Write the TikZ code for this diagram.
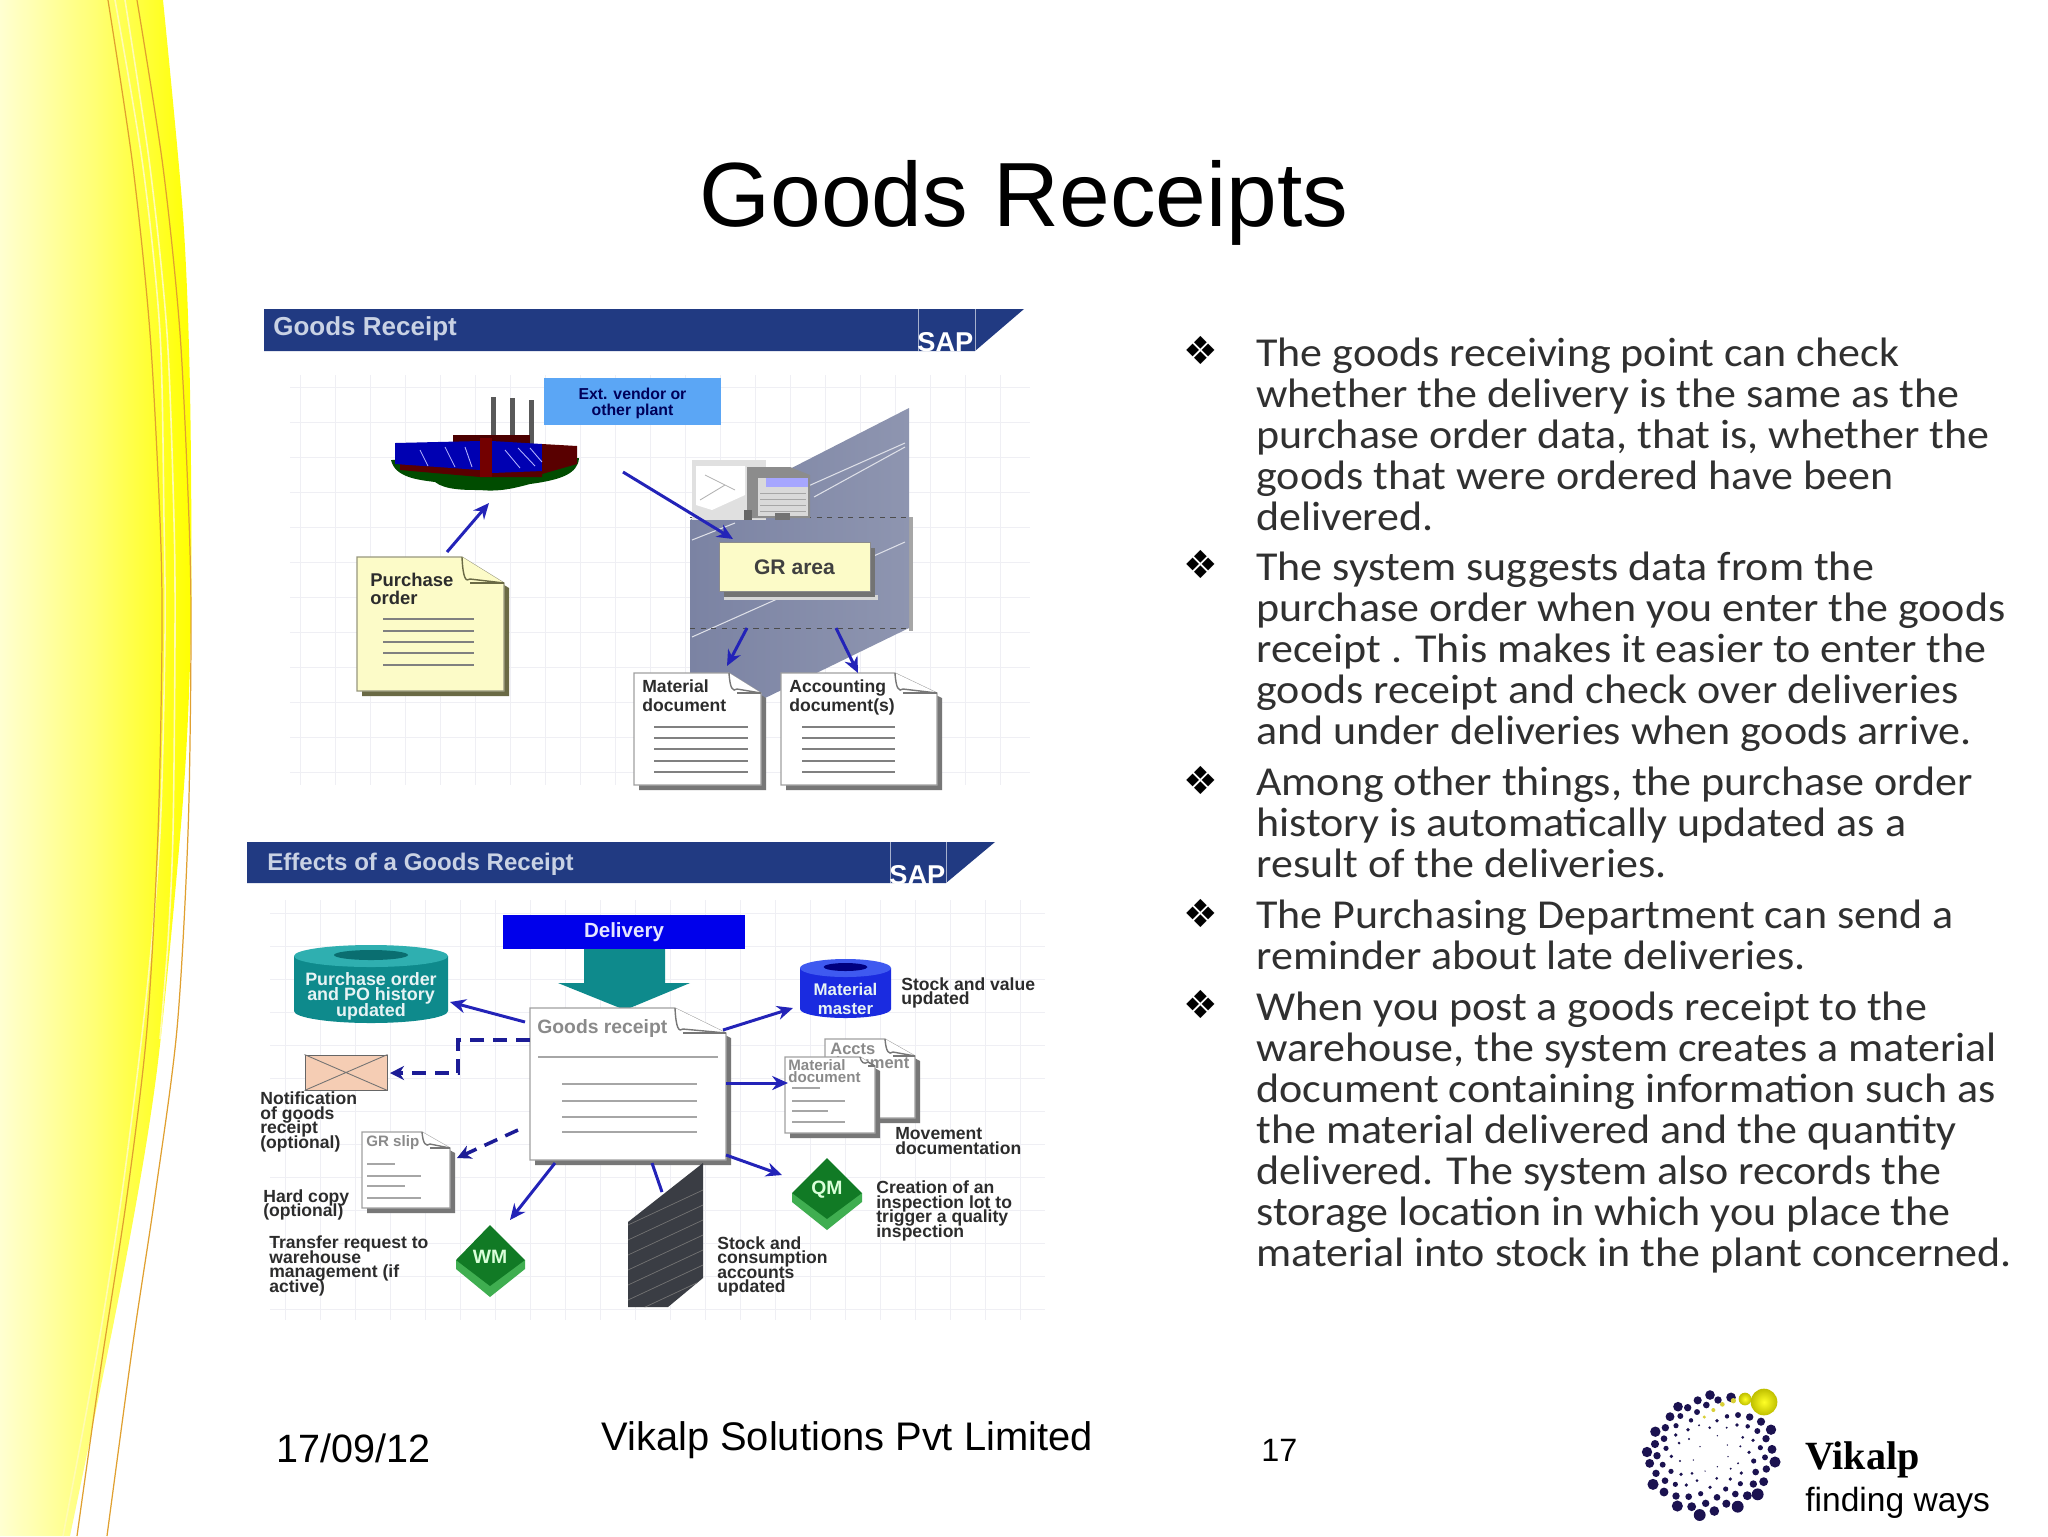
\documentclass[tikz,border=0pt]{standalone}
\usepackage{fontspec}
\setmainfont{Liberation Sans}
\newfontfamily\carl[FakeStretch=1.07]{Carlito}
\newfontfamily\djv{DejaVu Sans}
\newfontfamily\libser{Liberation Serif}
\usetikzlibrary{arrows.meta}
\definecolor{bannerblue}{HTML}{213A82}
\definecolor{bannertext}{HTML}{C9D2E4}
\definecolor{navydot}{HTML}{1B1250}
\definecolor{arrowblue}{HTML}{2323B8}
\definecolor{dashblue}{HTML}{1C1C96}
\definecolor{teal1}{HTML}{0E8A8C}
\definecolor{teal2}{HTML}{2FAFB0}
\definecolor{teal3}{HTML}{0A6E70}
\definecolor{matblue}{HTML}{1A2BE0}
\definecolor{matblue2}{HTML}{3F5AF0}
\definecolor{paleyellow}{HTML}{FCFBC8}
\definecolor{olive}{HTML}{6A6A45}
\definecolor{docshadow}{HTML}{777777}
\definecolor{labeltext}{HTML}{2C2C2C}
\definecolor{grayttxt}{HTML}{8A8A8A}
\definecolor{gridc}{HTML}{EFEFF4}
\definecolor{orangeline}{HTML}{E0A030}
\definecolor{bodytext}{HTML}{303030}
\definecolor{greenface}{HTML}{117A25}
\definecolor{greenside}{HTML}{3FAE50}
\definecolor{wallL}{HTML}{7B83A3}
\definecolor{wallR}{HTML}{8E95B0}
\definecolor{peach}{HTML}{F5CDB4}
\definecolor{ventblue}{HTML}{5BA6F5}
\definecolor{ledger}{HTML}{3A3D44}
\tikzset{
  x=0.02cm,y=-0.02cm,
  every node/.append style={execute at begin node={\lineskiplimit=-30pt\relax}},
  banner/.style={fill=bannerblue},
  bannerlabel/.style={anchor=west,inner sep=0pt,text=bannertext,font=\bfseries},
  saplabel/.style={anchor=west,inner sep=0pt,text=white,font=\fontsize{15.5}{16}\selectfont\bfseries},
  smalllabel/.style={anchor=west,inner sep=0pt,align=left,yshift=-1.3pt,text=labeltext,font=\fontsize{10}{8.2}\selectfont\bfseries},
  doclabel/.style={anchor=west,inner sep=0pt,align=left,text=labeltext,font=\fontsize{10}{10.8}\selectfont\bfseries},
  greylabel/.style={anchor=west,inner sep=0pt,align=left,text=grayttxt,font=\fontsize{8.6}{7.2}\selectfont\bfseries},
  whitelabel/.style={anchor=center,inner sep=0pt,align=center,yshift=-0.9pt,text=white!90!teal1,font=\fontsize{10.2}{8.9}\selectfont\bfseries},
  flow/.style={draw=arrowblue,line width=1.7pt,-{Stealth[length=9pt,width=8pt]}},
  flowdash/.style={draw=dashblue,line width=2pt,dash pattern=on 8pt off 5pt,-{Stealth[length=8pt,width=8pt]}},
  textline/.style={draw=#1,line width=0.9pt},
  bodypara/.style={anchor=north west,inner sep=0pt,align=left,text=bodytext,font=\fontsize{23.4}{23.4}\selectfont\carl},
  bulletmark/.style={anchor=center,inner sep=0pt,text=black,font=\fontsize{22}{22}\selectfont\djv},
  footer/.style={anchor=base west,inner sep=0pt,text=black},
  dot/.style={fill=navydot},
}
\newcommand\docsheet[8]{%
  \fill[#8] ({#1+5},{#2+5}) -- ({#5+4},{#2+5}) -- ({#3+5},{#6+5}) -- ({#3+5},{#4+5}) -- ({#1+5},{#4+5}) -- cycle;
  \draw[fill=#7,draw=#8!70!white,line width=0.6pt] (#1,#2) -- (#5,#2) -- (#3,#6) -- (#3,#4) -- (#1,#4) -- cycle;
  \draw[fill=#7,draw=#8,line width=0.8pt] (#5,#2) .. controls ({#5+1},{#6-4}) and ({#5+4},{#6-1}) .. ({#5+8},{#6-4}) -- (#3,#6);
  \draw[#8,line width=1.5pt] ({#5+8},{#6}) -- (#3,#6);
}
\newcommand\greendiamond[5]{% cx left right top name-label
  \fill[greenside] (#2,{#4+35}) -- (#2,{#4+44}) -- (#1,{#4+72}) -- (#3,{#4+44}) -- (#3,{#4+35}) -- cycle;
  \fill[greenface] (#1,#4) -- (#3,{#4+35}) -- (#1,{#4+61}) -- (#2,{#4+35}) -- cycle;
  \node[inner sep=0pt,text=white!85!green,font=\fontsize{11}{11}\selectfont\bfseries] (d#5) at (#1,{#4+31.5}) {#5};
}
\begin{document}
\begin{tikzpicture}
\useasboundingbox (0,0) rectangle (2048,1536);
\fill[white] (0,0) rectangle (2048,1536);
% left sweep
\shade[left color=yellow!18!white,right color=yellow,middle color=yellow!55!white]
  plot[smooth] coordinates {(163,0) (183,215) (190,390) (191,620) (183,800) (157,1070) (123,1275) (70,1536)} -- (0,1536) -- (0,0) -- cycle;
\draw[white!70!yellow,line width=0.9pt] plot[smooth] coordinates {(115,0) (143,167) (160,333) (164,520) (165,637) (160,833) (147,990) (123,1186) (97,1353) (63,1536)};
\draw[white!70!yellow,line width=0.9pt] plot[smooth] coordinates {(125,0) (150,167) (167,333) (174,520) (175,637) (173,833) (168,941) (160,1039)};
\draw[orangeline,line width=0.7pt] plot[smooth] coordinates {(108,0) (133,167) (150,333) (160,520) (162,637) (158,833) (147,1029) (127,1196) (100,1373) (77,1536)};
\draw[orangeline,line width=0.7pt] plot[smooth] coordinates {(137,0) (163,167) (180,333) (189,520) (191,637) (188,833) (177,1029) (155,1196) (133,1343) (107,1536)};
% title
\node[anchor=base,inner sep=0pt,font=\fontsize{51.9}{52}\selectfont] (title) at (1024,226) {Goods Receipts};
% panel grids
\foreach \yy in {387,422,...,772} \draw[gridc,line width=0.5pt] (290,\yy) -- (1030,\yy);
\foreach \xx in {300,335,...,1030} \draw[gridc,line width=0.5pt] (\xx,375) -- (\xx,785);
\foreach \yy in {913,946,...,1310} \draw[gridc,line width=0.5pt] (270,\yy) -- (1045,\yy);
\foreach \xx in {285,320,...,1045} \draw[gridc,line width=0.5pt] (\xx,900) -- (\xx,1320);

%%% PANEL 1
\fill[banner] (264,309) -- (1024,309) -- (975,351) -- (264,351) -- cycle;
\draw[white!60!bannerblue,line width=0.4pt] (918,309) -- (918,351) (975,309) -- (975,351);
\node[bannerlabel,font=\fontsize{14.8}{15}\selectfont\bfseries] (bannerA) at (273,328.5) {Goods Receipt};
\node[saplabel] (sapA) at (917,342) {SAP};
% wall
\fill[black!35] (909,517) rectangle (913,631);
\shade[left color=wallL,right color=wallR]
  (690,520) -- (909,408) -- (909,628) -- (761,700) -- (690,700) -- cycle;
\draw[white!75!wallL,line width=0.6pt] (692,637) -- (905,542) (814,497) -- (905,447) (806,487) -- (905,443) (692,540) -- (735,523);
\draw[black!70,line width=0.5pt,dashed] (690,517) -- (909,517) (690,628) -- (909,628);
% truck
\fill[black!12] (692,460) -- (766,460) -- (766,520) -- (692,520) -- cycle;
\fill[white] (696,466) -- (745,466) -- (745,495) -- (712,510) -- (696,505) -- cycle;
\draw[black!30,line width=0.5pt] (705,475) -- (735,490) (700,500) -- (725,485);
\fill[black!45] (747,467) -- (790,467) -- (810,475) -- (810,518) -- (747,518) -- cycle;
\fill[black!15] (758,478) -- (808,478) -- (808,516) -- (758,516) -- cycle;
\fill[blue!35!white] (766,478) -- (808,478) -- (808,487) -- (766,487) -- cycle;
\foreach \yy in {493,499,505,511} \draw[black!35,line width=0.4pt] (760,\yy) -- (806,\yy);
\fill[black!60] (744,510) rectangle (752,520);
\fill[black!55] (775,513) rectangle (790,520);
% factory
\fill[black!65] (490.5,397) rectangle (495.5,445);
\fill[black!65] (509.5,398) rectangle (514.5,445);
\fill[black!65] (528.5,400) rectangle (533.5,445);
\fill[black!70!red] (453,435) rectangle (530,445);
\fill[green!30!black] (391,460) -- (579,458) .. controls (578,474) and (560,480) .. (530,484) .. controls (515,488) and (500,492) .. (480,490) .. controls (465,490) and (445,490) .. (435,482) .. controls (420,480) and (395,478) .. (391,460) -- cycle;
\fill[red!35!black] (400,464) -- (542,470) -- (542,477) -- (480,477) -- (400,470) -- cycle;
\fill[blue!70!black] (395,443) -- (480,441) -- (480,470) -- (395,464) -- cycle;
\fill[blue!70!black] (492,441) -- (542,444) -- (542,471) -- (492,473) -- cycle;
\fill[red!35!black] (542,444) -- (577,446) -- (577,464) -- (542,474) -- cycle;
\fill[red!45!black] (480,438) rectangle (492,477);
\draw[white!70!blue,line width=0.5pt] (420,450) -- (428,466) (445,447) -- (455,467) (465,447) -- (472,467) (505,450) -- (520,468) (518,448) -- (535,466) (530,448) -- (542,462);
\coordinate (factoryS) at (489,503);
\coordinate (factoryE) at (623,472);
% ext vendor
\node[fill=ventblue,minimum width=177*0.02cm,minimum height=47*0.02cm,inner sep=0pt] (extvendor) at (632.5,401.5) {};
\node[inner sep=0pt,align=center,text=blue!35!black,font=\fontsize{9}{9.3}\selectfont\bfseries] (extlabel) at (632.5,404) {\strut Ext. vendor or\\other plant\strut};
% GR area
\fill[white!60!black!40] (724,595) rectangle (878,600);
\fill[black!55] (724,548) rectangle (875,597);
\node[fill=paleyellow,draw=black!45,line width=0.4pt,minimum width=151*0.02cm,minimum height=49*0.02cm,inner sep=0pt,text=black!75,font=\fontsize{12}{12}\selectfont\bfseries] (grarea) at (794.5,567) {GR area};
\coordinate (grNW) at (733,539);
\coordinate (grSW) at (747,628);
\coordinate (grSE) at (836,628);
% docs
\docsheet{357}{557}{504}{691}{462}{583}{paleyellow}{olive}
\foreach \yy in {619,631,642,653,665} \draw[textline=black!50] (383,\yy) -- (474,\yy);
\node[doclabel,font=\fontsize{10.5}{10.4}\selectfont\bfseries] (polabel) at (370,591.5) {\strut Purchase\\order\strut};
\coordinate (poN) at (447,552);
\docsheet{634}{673}{761}{785}{729}{693}{white}{docshadow}
\foreach \yy in {727,738,749,761,772} \draw[textline=black!50] (654,\yy) -- (748,\yy);
\node[doclabel] (matdoclabel) at (642,698) {\strut Material\\document\strut};
\coordinate (matN) at (727,666);
\docsheet{781}{673}{937}{785}{895}{693}{white}{docshadow}
\foreach \yy in {727,738,749,761,772} \draw[textline=black!50] (802,\yy) -- (895,\yy);
\node[doclabel] (accdoclabel) at (789,698) {\strut Accounting\\document(s)\strut};
\coordinate (accN) at (858,673);
% flows
\draw[flow] (poN) -- (factoryS);
\draw[flow] (factoryE) -- (grNW);
\draw[flow] (grSW) -- (matN);
\draw[flow] (grSE) -- (accN);

%%% PANEL 2
\fill[banner] (247,842) -- (995,842) -- (946,883) -- (247,883) -- cycle;
\draw[white!60!bannerblue,line width=0.4pt] (890,842) -- (890,883) (946,842) -- (946,883);
\node[bannerlabel,font=\fontsize{13.7}{14}\selectfont\bfseries] (bannerB) at (267,864) {Effects of a Goods Receipt};
\node[saplabel] (sapB) at (889,875) {SAP};
% delivery + big arrow
\node[fill=blue!92!black,minimum width=242*0.02cm,minimum height=34*0.02cm,inner sep=0pt,text=white!90!blue,font=\fontsize{11.7}{12}\selectfont\bfseries] (delivery) at (624,932) {\raisebox{-1.1pt}{Delivery}};
\fill[teal1] (584,949) -- (665,949) -- (665,983) -- (690,983) -- (625,1010) -- (558,983) -- (584,983) -- cycle;
% cylinders
\fill[teal1] (294,956) -- (294,1011) arc[start angle=180,end angle=0,x radius=77,y radius=12] -- (448,956) -- cycle;
\fill[teal2] (371,956) ellipse[x radius=77,y radius=11];
\fill[teal3] (371,955) ellipse[x radius=37,y radius=5];
\node[whitelabel] (pohist) at (371,995) {\strut Purchase order\\and PO history\\updated\strut};
\fill[matblue] (800,968) -- (800,1009) arc[start angle=180,end angle=0,x radius=45.5,y radius=9] -- (891,968) -- cycle;
\fill[matblue2] (845.5,968) ellipse[x radius=45.5,y radius=9];
\fill[blue!50!black] (845.5,967) ellipse[x radius=22,y radius=4];
\node[whitelabel,font=\fontsize{9.6}{10.8}\selectfont\bfseries] (matmaster) at (845.5,1000) {\strut Material\\master\strut};
\node[smalllabel] (stockvalue) at (901,991) {\strut Stock and value\\updated\strut};
% goods receipt doc
\docsheet{530}{1008}{726}{1160}{675}{1033}{white}{docshadow}
\node[greylabel,font=\fontsize{11}{11}\selectfont\bfseries] (grlabel) at (537,1028) {Goods receipt};
\draw[textline=black!35] (538,1057) -- (718,1057);
\foreach \yy in {1084,1101,1117,1132} \draw[textline=black!35] (562,\yy) -- (697,\yy);
\coordinate (grdW) at (525,1022);
\coordinate (grdE) at (723,1030);
\coordinate (grdDash) at (530,1040);
\coordinate (grdRight) at (726,1083);
\coordinate (grdSlip) at (518,1130);
\coordinate (grdS) at (555,1163);
\coordinate (grdWall) at (652,1163);
\coordinate (grdQM) at (726,1155);
% envelope
\node[fill=peach,draw=black!60,line width=0.5pt,minimum width=82*0.02cm,minimum height=35*0.02cm,inner sep=0pt] (envelope) at (346,1072.5) {};
\draw[black!55,line width=0.5pt] (envelope.north west) -- (envelope.south east) (envelope.north east) -- (envelope.south west);
\node[smalllabel] (notif) at (260,1120) {\strut Notification\\of goods\\receipt\\(optional)\strut};
% docs right
\docsheet{825}{1039}{915}{1118}{885}{1056}{white}{docshadow}
\node[greylabel,font=\fontsize{9.4}{8.4}\selectfont\bfseries] (acctslabel) at (830,1058) {\strut Accts\\document\strut};
\docsheet{785}{1057}{875}{1133}{860}{1066}{white}{docshadow}
\node[greylabel] (movedoclabel) at (788,1073) {\strut Material\\document\strut};
\draw[textline=black!35] (792,1088) -- (820,1088) (792,1101) -- (845,1101) (792,1111) -- (828,1111) (792,1122) -- (845,1122);
\node[smalllabel] (movement) at (895,1141) {\strut Movement\\documentation\strut};
\coordinate (moveW) at (788,1083);
% hard copy doc
\docsheet{362}{1132}{450}{1208}{422}{1148}{white}{docshadow}
\node[greylabel] (slip) at (366,1143) {GR slip};
\draw[textline=black!35] (367,1164) -- (395,1164) (367,1176) -- (421,1176) (367,1186) -- (405,1186) (367,1198) -- (421,1198);
\coordinate (slipE) at (457,1158);
\node[smalllabel] (hardcopy) at (263,1203) {\strut Hard copy\\(optional)\strut};
% green diamonds
\greendiamond{490}{456}{525}{1225}{WM}
\node[smalllabel] (transfer) at (269,1264) {\strut Transfer request to\\warehouse\\management (if\\active)\strut};
\greendiamond{827}{792}{862}{1158}{QM}
\node[smalllabel] (creation) at (876,1209) {\strut Creation of an\\inspection lot to\\trigger a quality\\inspection\strut};
% black ledger wall
\coordinate (wallEntry) at (662,1192);
\draw[flow,-] (grdWall) -- (wallEntry);
\fill[ledger] (703,1163) -- (703,1278) -- (668,1307) -- (628,1307) -- (628,1222) -- cycle;
\begin{scope}
\clip (703,1163) -- (703,1278) -- (668,1307) -- (628,1307) -- (628,1222) -- cycle;
\foreach \yy in {1225,1240,1255,1270,1285,1300,1315} \draw[black!55,line width=0.4pt] (628,\yy) -- (703,{\yy-35});
\end{scope}
\node[smalllabel] (stockcons) at (717,1264.5) {\strut Stock and\\consumption\\accounts\\updated\strut};
% flows
\coordinate (cylTeal) at (450,1002);
\coordinate (cylBlue) at (793,1008);
\coordinate (envE) at (390,1073);
\coordinate (wmN) at (510,1220);
\coordinate (qmNW) at (782,1175);
\coordinate (dashA) at (458,1040);
\coordinate (dashB) at (458,1073);
\draw[flow] (grdW) -- (cylTeal);
\draw[flow] (grdE) -- (cylBlue);
\draw[flowdash] (grdDash) -- (dashA) -- (dashB) -- (envE);
\draw[flow] (grdRight) -- (moveW);
\draw[flowdash] (grdSlip) -- (slipE);
\draw[flow] (grdS) -- (wmN);
\draw[flow] (grdQM) -- (qmNW);

%%% BODY TEXT
\node[bulletmark] (b1) at (1201,350) {❖};
\node[bulletmark] (b2) at (1201,564) {❖};
\node[bulletmark] (b3) at (1201,780) {❖};
\node[bulletmark] (b4) at (1201,913) {❖};
\node[bulletmark] (b5) at (1201,1004) {❖};
\node[bodypara] (p1) at (1256,337) {\strut The goods receiving point can check\\whether the delivery is the same as the\\purchase order data, that is, whether the\\goods that were ordered have been\\delivered.\strut};
\node[bodypara] (p2) at (1256,551) {\strut The system suggests data from the\\purchase order when you enter the goods\\receipt . This makes it easier to enter the\\goods receipt and check over deliveries\\and under deliveries when goods arrive.\strut};
\node[bodypara] (p3) at (1256,766) {\strut Among other things, the purchase order\\history is automatically updated as a\\result of the deliveries.\strut};
\node[bodypara] (p4) at (1256,899) {\strut The Purchasing Department can send a\\reminder about late deliveries.\strut};
\node[bodypara] (p5) at (1256,991) {\strut When you post a goods receipt to the\\warehouse, the system creates a material\\document containing information such as\\the material delivered and the quantity\\delivered. The system also records the\\storage location in which you place the\\material into stock in the plant concerned.\strut};

%%% FOOTER
\node[footer,font=\fontsize{22.5}{23}\selectfont] (fdate) at (276,1462) {17/09/12};
\node[footer,font=\fontsize{22.7}{23}\selectfont] (fcompany) at (601,1450) {Vikalp Solutions Pvt Limited};
\node[footer,font=\fontsize{18.4}{19}\selectfont] (fpage) at (1261,1461) {17};
\node[footer,font=\fontsize{22.8}{23}\selectfont\libser\bfseries] (logoname) at (1805,1469) {Vikalp};
\node[footer,font=\fontsize{19.1}{20}\selectfont] (logotag) at (1805,1511) {finding ways};
% logo dots
\foreach \a/\b/\c in {330/105/13,393/112/13,354/120/10,293/121/11,319/135/9,234/140/13,263/143/10,291/156/8,210/170/12,241/168/8,273/181/6,381/169/6,414/165/8,449/171/10,483/185/11,513/209/14,472/213/8,443/199/6,411/195/5,351/182/5,380/203/3,329/203/4,297/196/3,228/197/7,196/203/10,166/215/14,264/209/5,227/225/5,192/236/9,165/252/11,141/276/14,267/237/3,237/249/4,198/265/7,171/287/10,149/310/12,214/289/5,188/314/8,240/303/3,213/334/7,168/340/10,243/343/5,276/340/4,195/362/9,159/373/15,226/373/7,259/375/5,291/362/4,192/396/12,228/408/10,266/410/9,302/401/7,330/382/5,350/355/4,391/357/5,377/387/7,421/371/7,460/372/10,491/365/12,406/402/9,351/412/9,317/430/10,275/440/12,232/438/15,299/465/16,343/453/13,379/431/11,413/440/16,442/407/12,473/403/16,499/327/10,525/306/15,495/292/8,516/268/12,481/263/7,498/236/10,459/241/5,428/232/4,447/277/5,461/303/7,467/336/9,424/339/5,414/310/3,392/326/3,421/259/3,382/255/2,352/227/2,384/290/2,352/320/2,315/333/2,280/300/2,300/260/2}
  \fill[dot] ({1600+\a/3},{1360+\b/3}) circle[radius={\c/2.7}];
\foreach \a/\b/\c in {400/122/8,367/133/7,340/150/6,313/171/5}
  \fill[yellow!70!olive] ({1600+\a/3},{1360+\b/3}) circle[radius={\c/3}];
\shade[inner color=yellow!85!white,outer color=yellow!75!black] ({1600+435/3},{1360+117/3}) circle[radius={19/3}];
\shade[inner color=yellow!85!white,outer color=yellow!75!black] ({1600+492/3},{1360+126/3}) circle[radius={40/3}];
\end{tikzpicture}
\end{document}
